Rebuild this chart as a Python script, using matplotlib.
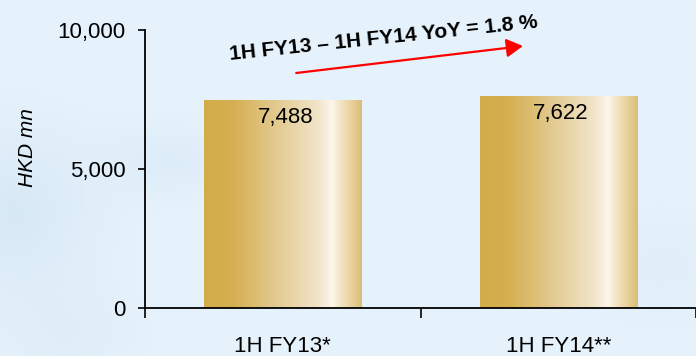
import numpy as np
import matplotlib.pyplot as plt
from matplotlib.colors import LinearSegmentedColormap, to_rgb

categories = ['1H FY13*', '1H FY14**']
revenue = [7488, 7622]
y_ticks = [0, 5000, 10000]
yoy_label = '1H FY13 – 1H FY14 YoY = 1.8 %'

plt.rcParams['font.family'] = ['Liberation Sans', 'DejaVu Sans']

fig = plt.figure(figsize=(6.96, 3.56), dpi=100)

# pale blue wash behind everything
bg = fig.add_axes([0, 0, 1, 1], zorder=-10)
yy, xx = np.mgrid[0:1:180j, 0:1:350j]
light = np.array(to_rgb('#e7f3fc'))
dark = np.array(to_rgb('#cde2f2'))
w = (0.55 * np.exp(-((xx - 0.02) ** 2 / 0.015 + (yy - 0.6) ** 2 / 0.06))
     + 0.35 * np.exp(-((xx - 0.25) ** 2 / 0.01 + (yy - 0.45) ** 2 / 0.01))
     + 0.25 * np.exp(-((xx - 0.1) ** 2 / 0.01 + (yy - 0.95) ** 2 / 0.02))
     + 0.2 * np.exp(-((xx - 0.95) ** 2 / 0.02 + (yy - 0.75) ** 2 / 0.03)))
w = np.clip(w, 0, 1)[..., None]
bg.imshow(light * (1 - w) + dark * w, aspect='auto', extent=(0, 1, 0, 1))
bg.axis('off')

# gold metallic fill for the bars
gold = LinearSegmentedColormap.from_list('gold', [
    (0.00, '#d3ac4a'), (0.18, '#d5af50'), (0.45, '#e2c98e'),
    (0.72, '#f1e4c8'), (0.78, '#f8efdd'), (0.81, '#fdf7ec'),
    (0.85, '#f5e8cd'), (0.93, '#e8d39f'), (1.00, '#dbbd74')])
grad = np.linspace(0, 1, 256)[None, :]

ax = fig.add_axes([145 / 696, 48 / 356, 551 / 696, 278 / 356])
ax.patch.set_alpha(0)

x = np.arange(len(categories))
bars = ax.bar(x, revenue, width=0.57, color='none', zorder=2)
for b in bars:
    x0, y0 = b.get_x(), b.get_y()
    im = ax.imshow(grad, cmap=gold, aspect='auto', zorder=2,
                   extent=(x0, x0 + b.get_width(), y0, y0 + b.get_height()))
    im.set_clip_path(b)

for xi, v in zip(x, revenue):
    ax.annotate(f'{v:,}', xy=(xi, v), xytext=(2, -12.5), textcoords='offset points',
                ha='center', va='center', fontsize=16, zorder=3)

ax.set_xlim(-0.5, 1.49)
ax.set_ylim(0, 10000)
ax.set_yticks(y_ticks)
ax.set_yticklabels([f'{t:,}' for t in y_ticks], fontsize=16)
ax.set_xticks([-0.5, 0.5, 1.5])
ax.set_xticklabels([])
ax.set_xticks(x, minor=True)
ax.set_xticklabels(categories, minor=True, fontsize=16)
ax.tick_params(axis='y', length=5, width=1.2, pad=9)
ax.tick_params(axis='x', which='major', length=7, width=1.2)
ax.tick_params(axis='x', which='minor', length=0, pad=20)

for side in ['top', 'right']:
    ax.spines[side].set_visible(False)
for side in ['left', 'bottom']:
    ax.spines[side].set_linewidth(1.3)

ax.set_ylabel('HKD mn', fontsize=15, style='italic', va='center')
ax.yaxis.set_label_coords(-0.214, 0.576)

# year-on-year growth note
ax.text(0.366, 9712, yoy_label, rotation=6, rotation_mode='anchor',
        ha='center', va='center', fontsize=15, fontweight='bold', zorder=4)
ax.annotate('', xy=(0.872, 9424), xytext=(0.049, 8453),
            arrowprops=dict(arrowstyle='-|>,head_length=0.5,head_width=0.28',
                            mutation_scale=20, color='red', lw=1.6,
                            shrinkA=0, shrinkB=0), zorder=4)

fig.savefig('out.png', dpi=100)
